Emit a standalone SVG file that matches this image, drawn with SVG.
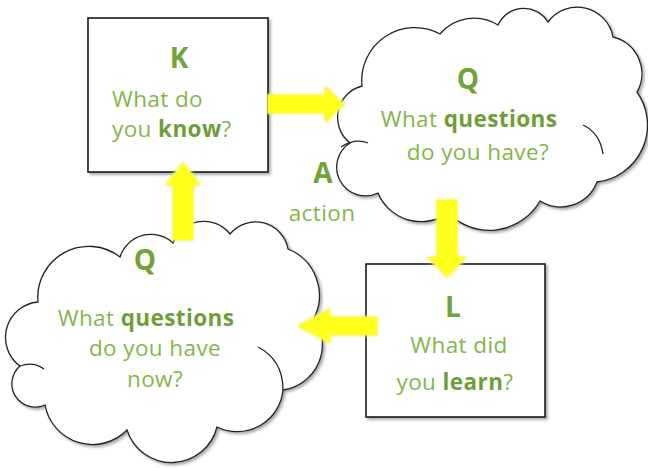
<svg xmlns="http://www.w3.org/2000/svg" width="648" height="468" viewBox="0 0 648 468">
<defs>
<filter id="shadow" x="-10%" y="-10%" width="130%" height="130%">
<feDropShadow dx="2" dy="2" stdDeviation="1.8" flood-color="#000" flood-opacity="0.35"/>
</filter>
<filter id="glow" x="-30%" y="-30%" width="160%" height="160%">
<feMorphology in="SourceAlpha" operator="dilate" radius="1.2" result="d"/>
<feGaussianBlur in="d" stdDeviation="1.6" result="b"/>
<feFlood flood-color="#F6F07A"/>
<feComposite in2="b" operator="in" result="g"/>
<feMerge><feMergeNode in="g"/><feMergeNode in="SourceGraphic"/></feMerge>
</filter>
<style>
.box{fill:#fff;stroke:#1a1a1a;stroke-width:1.6;filter:url(#shadow)}
.cloud{fill:#fff;stroke:#222;stroke-width:1.3;filter:url(#shadow)}
.inner{fill:none;stroke:#222;stroke-width:1.3}
.arrow{fill:#FFFF1E;filter:url(#glow)}
text{font-family:"Open Sans","Noto Sans",sans-serif;fill:#86B44B;font-size:22.5px;letter-spacing:0.4px}
.h{font-weight:bold;font-size:28px;fill:#72A23A;letter-spacing:0}
.b{font-weight:bold;fill:#6E9E38}
.c{text-anchor:middle}
</style>
</defs>

<g id="K">
<rect class="box" x="88" y="18" width="180" height="154"/>
<text class="h c" x="179" y="68">K</text>
<text x="112" y="107">What do</text>
<text x="112" y="137">you <tspan class="b">know</tspan>?</text>
</g>

<g id="Q1">
<path class="cloud" d="M 362,86 A 53 53 0 0 1 440,34 A 44.6 44.6 0 0 1 498,25 A 28.3 28.3 0 0 1 548,22 A 36.3 36.3 0 0 1 613,37 A 37.5 37.5 0 0 1 637,92 A 57.3 57.3 0 0 1 597,182 A 39 39 0 0 1 540,201 A 58.3 58.3 0 0 1 448,213 A 46.6 46.6 0 0 1 378,193 A 28.7 28.7 0 0 1 350,143 A 32.5 32.5 0 0 1 362,86 Z"/>
<path class="inner" d="M 583,125 Q 600,133 603,154"/>
<path class="inner" d="M 341,147 Q 355,138 368,143"/>
<text class="h c" x="468" y="89">Q</text>
<text class="c" x="469" y="127">What <tspan class="b">questions</tspan></text>
<text class="c" x="478" y="160">do you have?</text>
</g>

<g id="L">
<rect class="box" x="366" y="264" width="179" height="153"/>
<text class="h c" x="453" y="317">L</text>
<text class="c" x="459" y="353">What did</text>
<text class="c" x="455" y="390">you <tspan class="b">learn</tspan>?</text>
</g>

<g id="Q2">
<path class="cloud" d="M 38,302 A 51 51 0 0 1 120,257 A 32.5 32.5 0 0 1 173,243 A 33 33 0 0 1 230,234 A 33 33 0 0 1 288,249 A 50 50 0 0 1 314,318 A 46 46 0 0 1 283,390 A 46 46 0 0 1 217,427 A 46.8 46.8 0 0 1 127,430 A 48.3 48.3 0 0 1 45,405 A 23.4 23.4 0 0 1 20,366 A 35.5 35.5 0 0 1 38,302 Z"/>
<path class="inner" d="M 258,347 Q 283,360 283,390"/>
<path class="inner" d="M 20,366 Q 33,361 44,369"/>
<text class="h c" x="145" y="270">Q</text>
<text class="c" x="146" y="326">What <tspan class="b">questions</tspan></text>
<text class="c" x="155" y="356">do you have</text>
<text class="c" x="155" y="387">now?</text>
</g>

<g id="A">
<text class="h c" x="323" y="183">A</text>
<text class="c" x="322" y="221">action</text>
</g>

<g id="connectors">
<polygon class="arrow" points="268,95 325,95 325,87 344,104.5 325,122 325,113 268,113"/>
<polygon class="arrow" points="437,200 457,200 457,257 466,257 447,277 428,257 437,257"/>
<polygon class="arrow" points="377,317 330,317 330,309 298,326 330,343 330,335 377,335"/>
<polygon class="arrow" points="173,240 173,185 166,185 183,163 200,185 193,185 193,240"/>
</g>
</svg>
